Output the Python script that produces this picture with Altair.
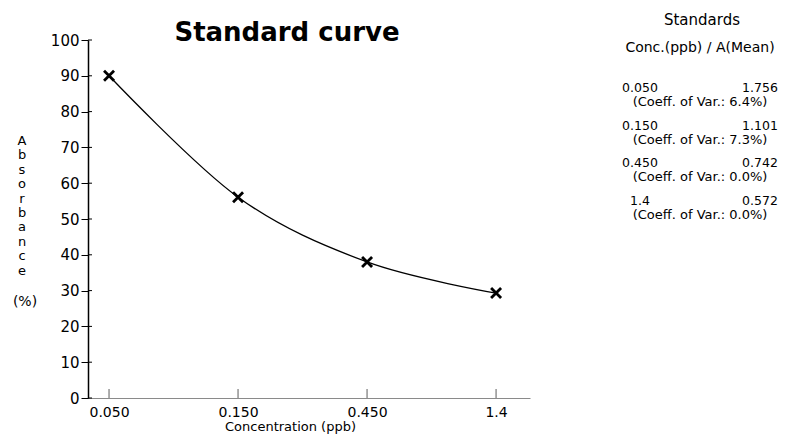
import json
import altair as alt
import pandas as pd

# ---- data ----
conc_labels = ["0.050", "0.150", "0.450", "1.4"]
absorbance = [90.0, 56.1, 38.0, 29.3]
a_mean = ["1.756", "1.101", "0.742", "0.572"]
coeff_var = ["6.4%", "7.3%", "0.0%", "0.0%"]
y_ticks = [0, 10, 20, 30, 40, 50, 60, 70, 80, 90, 100]
y_title_letters = ["A", "b", "s", "o", "r", "b", "a", "n", "c", "e"]

FONT = "DejaVu Sans"

df = pd.DataFrame({
    "idx": list(range(len(conc_labels))),
    "conc": conc_labels,
    "absorbance": absorbance,
    "amean": a_mean,
    "cv": ["(Coeff. of Var.: " + c + ")" for c in coeff_var],
})
ticks_df = pd.DataFrame({"absorbance": y_ticks})

label_expr = json.dumps(conc_labels) + "[datum.value]"

x_enc = alt.X(
    "idx:Q",
    scale=alt.Scale(domain=[-0.163, 3.263], nice=False, zero=False),
    axis=alt.Axis(
        values=[0, 1, 2, 3], labelExpr=label_expr, grid=False,
        tickSize=0, domainColor="#8a8a8a", domainWidth=1.2,
        labelPadding=7, labelFontSize=14, labelColor="black", labelFont=FONT,
        title="Concentration (ppb)", titleFont=FONT, titleFontSize=13,
        titleFontWeight="normal", titleColor="black",
        titleX=202, titleY=22, titleBaseline="top", titleAlign="center",
    ),
)
y_enc = alt.Y(
    "absorbance:Q",
    scale=alt.Scale(domain=[0, 100], nice=False),
    axis=alt.Axis(
        values=y_ticks, grid=False, tickSize=7, tickColor="black",
        domainColor="black", domainWidth=1.5, labelPadding=2,
        labelOverlap=False,
        labelFontSize=15, labelColor="black", labelFont=FONT,
        title=None,
    ),
)

base = alt.Chart(df)

line = base.mark_line(interpolate="cardinal", tension=0, color="black", strokeWidth=1.3).encode(x=x_enc, y=y_enc)

points = base.mark_point(
    shape="M-1,-1L1,1M1,-1L-1,1", size=100, strokeWidth=2.8,
    color="black", filled=False, opacity=1,
).encode(x=x_enc, y=y_enc)

xticks = base.mark_rule(color="#777", strokeWidth=1.2).encode(
    x=x_enc, y=alt.value(358), y2=alt.value(349)
)

yticks_in = alt.Chart(ticks_df).mark_rule(color="black", strokeWidth=1).encode(
    y=y_enc, x=alt.value(0), x2=alt.value(4)
)

one = base.transform_filter("datum.idx == 0")

ytitle = one.mark_text(
    font=FONT, fontSize=13, color="black", align="center", baseline="top",
    lineBreak="\n", lineHeight=14.4,
).encode(x=alt.value(-66), y=alt.value(95), text=alt.value("\n".join(y_title_letters)))

ytitle_unit = one.mark_text(
    font=FONT, fontSize=14, color="black", align="center", baseline="middle",
).encode(x=alt.value(-63), y=alt.value(262), text=alt.value("(%)"))

title = one.mark_text(
    font=FONT, fontSize=26, fontWeight="bold", color="black", align="center", baseline="middle"
).encode(x=alt.value(199), y=alt.value(-7), text=alt.value("Standard curve"))

hdr1 = one.mark_text(
    font=FONT, fontSize=15, color="black", align="center", baseline="middle"
).encode(x=alt.value(614), y=alt.value(-20), text=alt.value("Standards"))

hdr2 = one.mark_text(
    font=FONT, fontSize=14, color="black", align="center", baseline="middle"
).encode(x=alt.value(612), y=alt.value(8), text=alt.value("Conc.(ppb) / A(Mean)"))

rows = []
for i in range(len(conc_labels)):
    y0 = 48 + i * 37.7
    sub = base.transform_filter(f"datum.idx == {i}")
    common = dict(font=FONT, color="black", align="center", baseline="middle")
    rows.append(sub.mark_text(fontSize=12.5, **common).encode(x=alt.value(552), y=alt.value(y0), text="conc:N"))
    rows.append(sub.mark_text(fontSize=12.5, **common).encode(x=alt.value(672), y=alt.value(y0), text="amean:N"))
    rows.append(sub.mark_text(fontSize=13, **common).encode(x=alt.value(612), y=alt.value(y0 + 14), text="cv:N"))

chart = alt.layer(line, points, xticks, yticks_in, ytitle, ytitle_unit, title, hdr1, hdr2, *rows).properties(
    width=442,
    height=358,
    padding={"left": 80, "top": 32, "right": 255, "bottom": 36},
    autosize=alt.AutoSizeParams(type="none"),
    background="white",
).configure_view(stroke=None)

chart.save("out.html", embed_options={"renderer": "svg", "actions": False})
